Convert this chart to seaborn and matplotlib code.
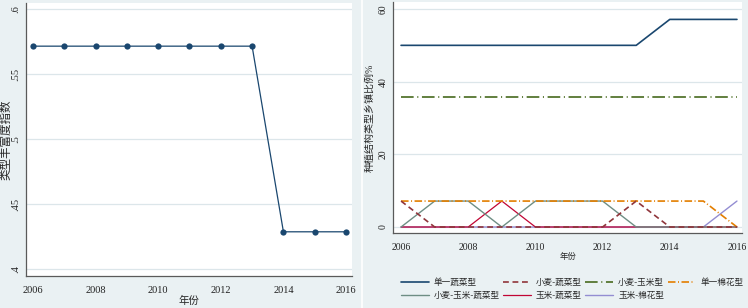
#!/usr/bin/env python3
import pandas as pd
import matplotlib
matplotlib.use("Agg")
import matplotlib.pyplot as plt
import seaborn as sns

years = list(range(2006, 2017))

# left panel: 类型丰富度指数
richness = [0.5714, 0.5714, 0.5714, 0.5714, 0.5714, 0.5714, 0.5714, 0.5714,
            0.4286, 0.4286, 0.4286]

# right panel: share of townships by planting structure (%)
series_names = ["单一蔬菜型", "小麦-蔬菜型", "小麦-玉米型", "单一棉花型",
                "小麦-玉米-蔬菜型", "玉米-蔬菜型", "玉米-棉花型"]
veg_only = [50, 50, 50, 50, 50, 50, 50, 50, 57.14, 57.14, 57.14]
wheat_veg = [7.14, 0, 0, 0, 0, 0, 0, 7.14, 0, 0, 0]
wheat_corn = [35.71] * 11
cotton_only = [7.14, 7.14, 7.14, 7.14, 7.14, 7.14, 7.14, 7.14, 7.14, 7.14, 0]
wheat_corn_veg = [0, 7.14, 7.14, 0, 7.14, 7.14, 7.14, 0, 0, 0, 0]
corn_veg = [0, 0, 0, 7.14, 0, 0, 0, 0, 0, 0, 0]
corn_cotton = [0, 0, 0, 0, 0, 0, 0, 0, 0, 0, 7.14]

BG = "#EAF1F3"
GRID = "#DCE6EA"
AX = "#5A5A5A"
FONT = ["Liberation Serif", "Noto Sans CJK SC", "DejaVu Sans"]


def style_axis(ax):
    ax.set_facecolor("white")
    for s in ["top", "right"]:
        ax.spines[s].set_visible(False)
    for s in ["left", "bottom"]:
        ax.spines[s].set_color(AX)
        ax.spines[s].set_linewidth(0.9)
    ax.tick_params(axis="both", direction="out", length=3, width=0.8, color=AX,
                   labelcolor="#222222")
    ax.tick_params(axis="x", pad=4)
    ax.tick_params(axis="y", pad=1)
    ax.grid(True, axis="y", color=GRID, linewidth=0.9)
    ax.grid(False, axis="x")
    ax.set_axisbelow(True)
    for lab in ax.get_yticklabels():
        lab.set_rotation(90)
        lab.set_va("center")
        lab.set_family(FONT)
    for lab in ax.get_xticklabels():
        lab.set_family(FONT)


def main():
    sns.set_style("white")
    plt.rcParams["font.family"] = FONT

    fig = plt.figure(figsize=(7.48, 3.08), dpi=100, facecolor=BG)
    # thin separator between the two graphs
    fig.add_artist(plt.Line2D([362 / 748, 362 / 748], [0, 1], color="white", lw=1.2,
                              transform=fig.transFigure))

    # ---- left panel ----
    ax1 = fig.add_axes([26 / 748, 1 - 276 / 308, 326 / 748, 273 / 308])
    left_df = pd.DataFrame({"year": years, "value": richness})
    sns.lineplot(data=left_df, x="year", y="value", ax=ax1, color="#1A476F",
                 linewidth=0.9, marker="o", markersize=4.5, markeredgewidth=0)
    ax1.set_xlim(2005.78, 2016.19)
    ax1.set_ylim(0.3946, 0.6046)
    ax1.set_xticks(range(2006, 2017, 2))
    ax1.set_yticks([0.4, 0.45, 0.5, 0.55, 0.6])
    ax1.set_yticklabels([".4", ".45", ".5", ".55", ".6"], fontsize=7.5)
    ax1.set_xticklabels([str(y) for y in range(2006, 2017, 2)], fontsize=7.5)
    ax1.set_xlabel("年份", fontsize=7.5, labelpad=1)
    ax1.set_ylabel("类型丰富度指数", fontsize=8.3)
    ax1.yaxis.label.set_va("center")
    ax1.yaxis.set_label_coords(-0.060, 0.5)
    style_axis(ax1)

    # ---- right panel ----
    ax2 = fig.add_axes([393 / 748, 1 - 233 / 308, 349 / 748, 231 / 308])
    values = [veg_only, wheat_veg, wheat_corn, cotton_only,
              wheat_corn_veg, corn_veg, corn_cotton]
    long_df = pd.DataFrame({
        "year": years * len(series_names),
        "pct": [v for vals in values for v in vals],
        "type": [n for n in series_names for _ in years],
    })
    palette = {
        "单一蔬菜型": "#1A476F",
        "小麦-蔬菜型": "#90353B",
        "小麦-玉米型": "#55752F",
        "单一棉花型": "#E37E00",
        "小麦-玉米-蔬菜型": "#6E8E84",
        "玉米-蔬菜型": "#C10534",
        "玉米-棉花型": "#938DD2",
    }
    dashes = {
        "单一蔬菜型": "",
        "小麦-蔬菜型": (3.5, 2.2),
        "小麦-玉米型": (7, 2, 0.6, 2),
        "单一棉花型": (4.5, 1.5, 0.6, 1.5),
        "小麦-玉米-蔬菜型": "",
        "玉米-蔬菜型": "",
        "玉米-棉花型": "",
    }
    widths = {"单一蔬菜型": 1.2, "小麦-蔬菜型": 1.2, "小麦-玉米型": 1.3,
              "单一棉花型": 1.2, "小麦-玉米-蔬菜型": 1.0, "玉米-蔬菜型": 0.9,
              "玉米-棉花型": 1.0}
    # draw in reverse so the first series sit on top
    for name in series_names[::-1]:
        sub = long_df[long_df["type"] == name]
        sns.lineplot(data=sub, x="year", y="pct", ax=ax2, color=palette[name],
                     linewidth=widths[name], label=name, legend=False)
        ln = ax2.lines[-1]
        if dashes[name]:
            ln.set_dashes(dashes[name])
    ax2.set_xlim(2005.76, 2016.15)
    ax2.set_ylim(-1.65, 61.93)
    ax2.set_xticks(range(2006, 2017, 2))
    ax2.set_yticks([0, 20, 40, 60])
    ax2.set_yticklabels(["0", "20", "40", "60"], fontsize=7)
    ax2.set_xticklabels([str(y) for y in range(2006, 2017, 2)], fontsize=7)
    ax2.set_xlabel("年份", fontsize=6, labelpad=1)
    ax2.set_ylabel("种植结构类型乡镇比例%", fontsize=7.2)
    ax2.yaxis.label.set_va("center")
    ax2.yaxis.set_label_coords(-0.067, 0.5)
    style_axis(ax2)

    # legend, filled column-wise -> reorder to get row order
    lines = {ln.get_label(): ln for ln in ax2.lines}
    order = ["单一蔬菜型", "小麦-玉米-蔬菜型", "小麦-蔬菜型", "玉米-蔬菜型",
             "小麦-玉米型", "玉米-棉花型", "单一棉花型"]
    handles = [lines[n] for n in order]
    fig.legend(handles, order, ncol=4, loc="center", bbox_to_anchor=(0.765, 0.062),
               frameon=False, fontsize=6.2, handlelength=3.2, handletextpad=0.6,
               columnspacing=0.4, labelspacing=0.55)

    fig.savefig("out.png", dpi=100, facecolor=BG)


if __name__ == "__main__":
    main()
